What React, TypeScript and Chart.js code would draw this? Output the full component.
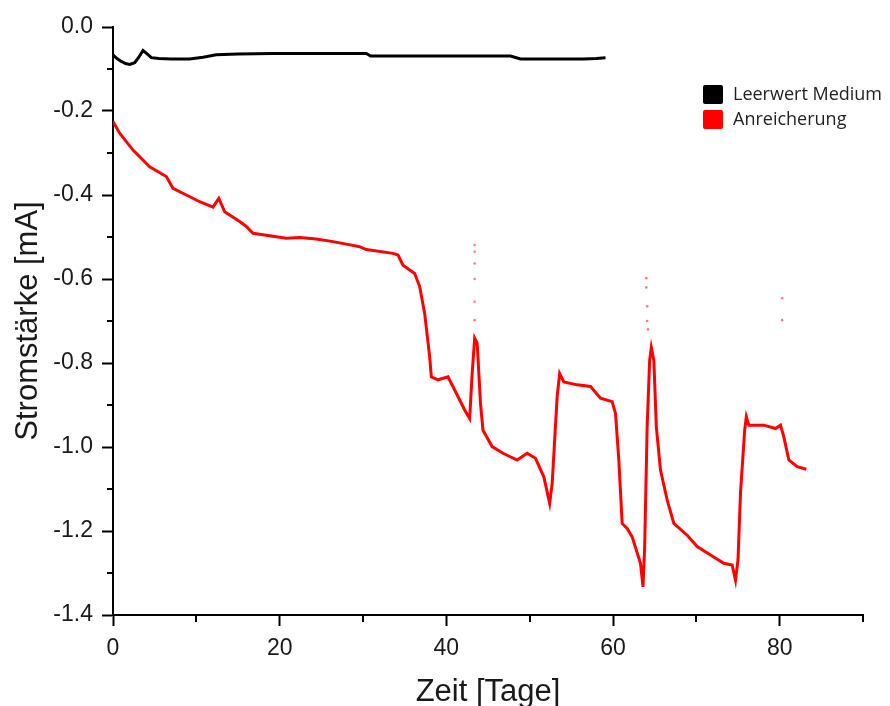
import React, { useEffect, useRef } from "react";
import { Chart, registerables } from "chart.js";

Chart.register(...registerables);

// ---- data ----
const seriesLabels = ["Leerwert Medium", "Anreicherung"];
const seriesColors = ["#000000", "#ff0000"];

const blankDays = [0, 0.4, 1.0, 1.5, 2.0, 2.6, 3.1, 3.6, 4.1, 4.6, 5.5, 7.0, 9.2, 10.8, 12.4, 15.0, 19.2, 24.0, 30.4, 30.9, 35.0, 40.0, 44.0, 47.7, 48.9, 52.0, 56.4, 58.0, 59.1];
const blankCurrent = [-0.066, -0.074, -0.082, -0.087, -0.089, -0.085, -0.072, -0.056, -0.064, -0.073, -0.075, -0.076, -0.076, -0.072, -0.066, -0.064, -0.063, -0.063, -0.063, -0.069, -0.069, -0.069, -0.069, -0.069, -0.076, -0.076, -0.076, -0.075, -0.073];

const enrichDays = [0.0, 0.8, 2.4, 4.4, 6.4, 7.2, 8.8, 10.4, 12.0, 12.7, 13.4, 15.2, 16.0, 16.8, 19.2, 20.8, 22.4, 24.4, 26.4, 28.0, 29.6, 30.4, 33.6, 34.2, 34.8, 36.2, 36.8, 37.4, 38.0, 38.2, 39.0, 40.2, 41.2, 42.2, 42.8, 43.1, 43.4, 43.7, 44.1, 44.4, 45.5, 46.8, 48.5, 49.7, 50.7, 51.7, 52.4, 52.7, 53.3, 53.6, 54.1, 55.7, 57.3, 58.5, 59.9, 60.3, 60.7, 61.1, 61.7, 62.3, 63.3, 63.6, 63.8, 64.1, 64.4, 64.6, 64.9, 65.2, 65.7, 66.5, 67.3, 68.9, 70.1, 71.7, 73.3, 74.3, 74.7, 75.0, 75.3, 75.8, 76.0, 76.3, 78.1, 79.5, 80.1, 80.5, 81.1, 82.1, 83.2];
const enrichCurrent = [-0.225, -0.253, -0.293, -0.333, -0.356, -0.384, -0.400, -0.416, -0.429, -0.408, -0.440, -0.463, -0.475, -0.491, -0.498, -0.503, -0.501, -0.505, -0.511, -0.517, -0.523, -0.530, -0.539, -0.543, -0.567, -0.587, -0.618, -0.682, -0.785, -0.833, -0.840, -0.833, -0.872, -0.912, -0.932, -0.825, -0.741, -0.753, -0.896, -0.960, -0.999, -1.015, -1.031, -1.015, -1.027, -1.071, -1.134, -1.087, -0.880, -0.825, -0.845, -0.852, -0.856, -0.884, -0.892, -0.920, -1.031, -1.182, -1.194, -1.214, -1.277, -1.333, -1.237, -0.952, -0.793, -0.763, -0.793, -0.952, -1.055, -1.126, -1.182, -1.210, -1.237, -1.257, -1.277, -1.281, -1.317, -1.269, -1.110, -0.960, -0.928, -0.948, -0.948, -0.956, -0.948, -0.976, -1.031, -1.047, -1.053];

const outlierDays = [43.4, 43.4, 43.4, 43.4, 43.4, 43.4, 64.0, 64.0, 64.1, 64.1, 64.2, 80.3, 80.3];
const outlierCurrent = [-0.519, -0.535, -0.563, -0.600, -0.654, -0.698, -0.598, -0.620, -0.665, -0.700, -0.720, -0.646, -0.698];

const xMajorTicks = [0, 20, 40, 60, 80];
const xMinorTicks = [10, 30, 50, 70, 90];
const yMajorTicks = [0, -0.2, -0.4, -0.6, -0.8, -1.0, -1.2, -1.4];
const yMinorTicks = [-0.1, -0.3, -0.5, -0.7, -0.9, -1.1, -1.3];

const xTitle = "Zeit [Tage]";
const yTitle = "Stromstärke [mA]";

const zip = (xs: number[], ys: number[]) => xs.map((x, i) => ({ x, y: ys[i] }));

const minorTickPlugin = {
  id: "minorTicks",
  afterDraw(chart: any) {
    const { ctx, chartArea, scales } = chart;
    ctx.save();
    ctx.strokeStyle = "#000";
    ctx.lineWidth = 2;
    ctx.beginPath();
    yMinorTicks.forEach((v) => {
      const p = Math.round(scales.y.getPixelForValue(v));
      ctx.moveTo(chartArea.left - 6, p);
      ctx.lineTo(chartArea.left, p);
    });
    xMinorTicks.forEach((v) => {
      const p = Math.round(scales.x.getPixelForValue(v));
      ctx.moveTo(p, chartArea.bottom);
      ctx.lineTo(p, chartArea.bottom + 7);
    });
    ctx.stroke();
    ctx.restore();
  },
};

export default function App() {
  const canvasRef = useRef<HTMLCanvasElement | null>(null);

  useEffect(() => {
    if (!canvasRef.current) return;
    const tickFont = { family: "'Liberation Sans', Arial, sans-serif", size: 23 };
    const titleFont = { family: "'Liberation Sans', Arial, sans-serif", size: 31, lineHeight: 0.9 };
    const chart = new Chart(canvasRef.current, {
      type: "line",
      data: {
        datasets: [
          {
            label: seriesLabels[0],
            data: zip(blankDays, blankCurrent),
            borderColor: seriesColors[0],
            backgroundColor: seriesColors[0],
            borderWidth: 3,
            pointRadius: 0,
            tension: 0,
          },
          {
            label: seriesLabels[1],
            data: zip(enrichDays, enrichCurrent),
            borderColor: seriesColors[1],
            backgroundColor: seriesColors[1],
            borderWidth: 3,
            pointRadius: 0,
            tension: 0,
          },
          {
            label: "outliers",
            data: zip(outlierDays, outlierCurrent),
            showLine: false,
            borderColor: "rgba(230,0,0,0.5)",
            backgroundColor: "rgba(230,0,0,0.5)",
            pointRadius: 1.3,
            pointBorderWidth: 0,
          },
        ],
      },
      options: {
        animation: false,
        responsive: true,
        maintainAspectRatio: false,
        layout: { padding: { top: 27, right: 27, left: 0, bottom: 0 } },
        plugins: { legend: { display: false }, tooltip: { enabled: false } },
        scales: {
          x: {
            type: "linear",
            min: 0,
            max: 90,
            afterFit: (s: any) => {
              s.height = 91;
            },
            afterBuildTicks: (s: any) => {
              s.ticks = xMajorTicks.map((v) => ({ value: v }));
            },
            border: { display: true, color: "#000", width: 2 },
            grid: { drawOnChartArea: false, drawTicks: true, tickLength: 11, tickWidth: 2, tickColor: "#000" },
            ticks: { font: tickFont, color: "#1a1a1a", padding: 9, maxRotation: 0, callback: (v: any) => String(v) },
            title: { display: true, text: xTitle, font: titleFont, color: "#1a1a1a", padding: { top: 0, bottom: 0 } },
          },
          y: {
            type: "linear",
            min: -1.4,
            max: 0,
            afterFit: (s: any) => {
              s.width = 113;
            },
            afterBuildTicks: (s: any) => {
              s.ticks = yMajorTicks.map((v) => ({ value: v }));
            },
            border: { display: true, color: "#000", width: 2 },
            grid: { drawOnChartArea: false, drawTicks: true, tickLength: 11, tickWidth: 2, tickColor: "#000" },
            ticks: { font: tickFont, color: "#1a1a1a", padding: 9, callback: (v: any) => Number(v).toFixed(1) },
            title: { display: true, text: yTitle, font: titleFont, color: "#1a1a1a", padding: { top: 15, bottom: 0 } },
          },
        },
      },
      plugins: [minorTickPlugin],
    } as any);
    return () => chart.destroy();
  }, []);

  return (
    <div style={{ position: "absolute", left: 0, top: 0, width: 890, height: 706, background: "#fff" }}>
      <canvas ref={canvasRef} />
      <div style={{ position: "absolute", left: 703, top: 82, fontFamily: "'Open Sans', Lato, sans-serif", fontSize: 18, color: "#222" }}>
        {seriesLabels.map((lab, i) => (
          <div key={lab} style={{ display: "flex", alignItems: "center", height: 25 }}>
            <span style={{ display: "inline-block", width: 20, height: 19, background: seriesColors[i], borderRadius: 2, marginRight: 10, flex: "none" }} />
            <span style={{ whiteSpace: "nowrap", position: "relative", top: -2 }}>{lab}</span>
          </div>
        ))}
      </div>
    </div>
  );
}
